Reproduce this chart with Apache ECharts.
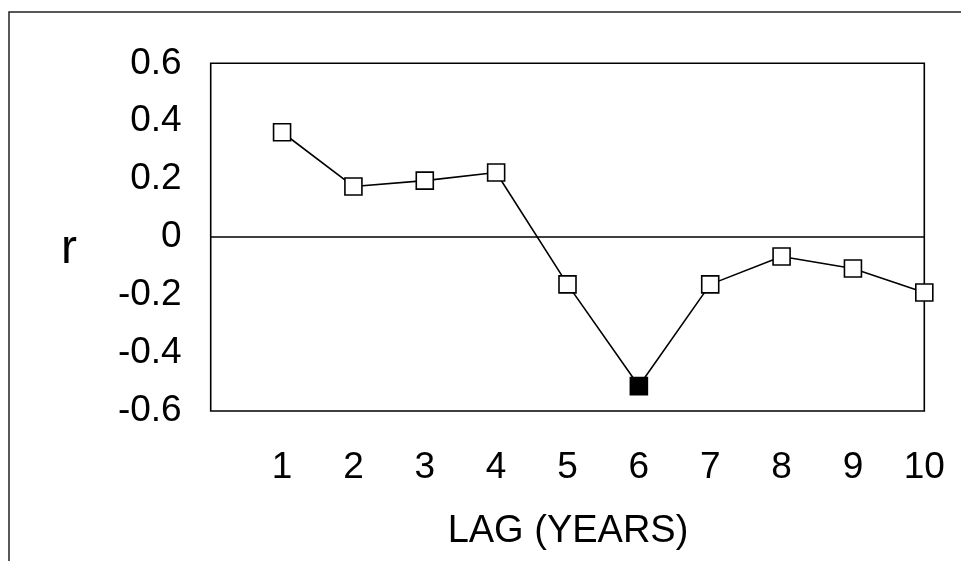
<!DOCTYPE html>
<html>
<head>
<meta charset="utf-8">
<script src="https://cdn.jsdelivr.net/npm/echarts@6/dist/echarts.min.js"></script>
<style>
html,body{margin:0;padding:0;background:#fff;}
#c{width:961px;height:561px;}
</style>
</head>
<body>
<div id="c"></div>
<script>
var lags = [1, 2, 3, 4, 5, 6, 7, 8, 9, 10];
var rValues = [0.362, 0.175, 0.195, 0.223, -0.163, -0.514, -0.163, -0.067, -0.108, -0.191];
var highlightedLag = 6;
var yTicks = [-0.6, -0.4, -0.2, 0, 0.2, 0.4, 0.6];
var xTitle = 'LAG (YEARS)';
var yTitle = 'r';

var FONT = '"Liberation Sans", Arial, sans-serif';

var seriesData = lags.map(function (lag, i) {
  var d = { value: [lag, rValues[i]] };
  if (lag === highlightedLag) {
    d.itemStyle = { color: '#000', borderColor: '#000' };
  }
  return d;
});

var chart = echarts.init(document.getElementById('c'), null, { renderer: 'canvas' });
chart.setOption({
  backgroundColor: '#fff',
  animation: false,
  grid: {
    left: 210.7, top: 63.3, right: 36.7, bottom: 150,
    show: true, borderColor: '#000', borderWidth: 1.6, backgroundColor: 'transparent'
  },
  xAxis: {
    type: 'value', min: 0, max: 10, interval: 1,
    axisLine: { show: false }, axisTick: { show: false }, splitLine: { show: false },
    axisLabel: {
      margin: 38.5, color: '#000', fontSize: 37, fontFamily: FONT,
      formatter: function (v) { return lags.indexOf(v) >= 0 ? String(v) : ''; }
    }
  },
  yAxis: {
    type: 'value', min: yTicks[0], max: yTicks[yTicks.length - 1], interval: 0.2,
    axisLine: { show: false }, axisTick: { show: false }, splitLine: { show: false },
    axisLabel: {
      margin: 29, color: '#000', fontSize: 37, fontFamily: FONT,
      padding: [4, 0, 0, 0],
      formatter: function (v) {
        var r = Math.round(v * 10) / 10;
        return r === 0 ? '0' : r.toFixed(1);
      }
    }
  },
  graphic: [
    {
      type: 'rect', silent: true, z: -1,
      shape: { x: 9, y: 12, width: 1000, height: 600 },
      style: { fill: 'none', stroke: '#222', lineWidth: 1.5 }
    },
    {
      type: 'text', x: 568, y: 512.3,
      style: { text: xTitle, fill: '#000', font: '38px ' + FONT, textAlign: 'center', textVerticalAlign: 'top' }
    },
    {
      type: 'text', left: 61, top: 226,
      style: { text: yTitle, fill: '#000', font: '48px ' + FONT }
    }
  ],
  series: [{
    type: 'line',
    data: seriesData,
    symbol: 'rect',
    symbolSize: 17,
    lineStyle: { color: '#000', width: 1.6 },
    itemStyle: { color: '#fff', borderColor: '#000', borderWidth: 1.6 },
    z: 3,
    markLine: {
      silent: true, symbol: ['none', 'none'], label: { show: false },
      lineStyle: { color: '#000', width: 1.6, type: 'solid' },
      data: [{ yAxis: 0 }],
      z: 1
    }
  }]
});
</script>
</body>
</html>
